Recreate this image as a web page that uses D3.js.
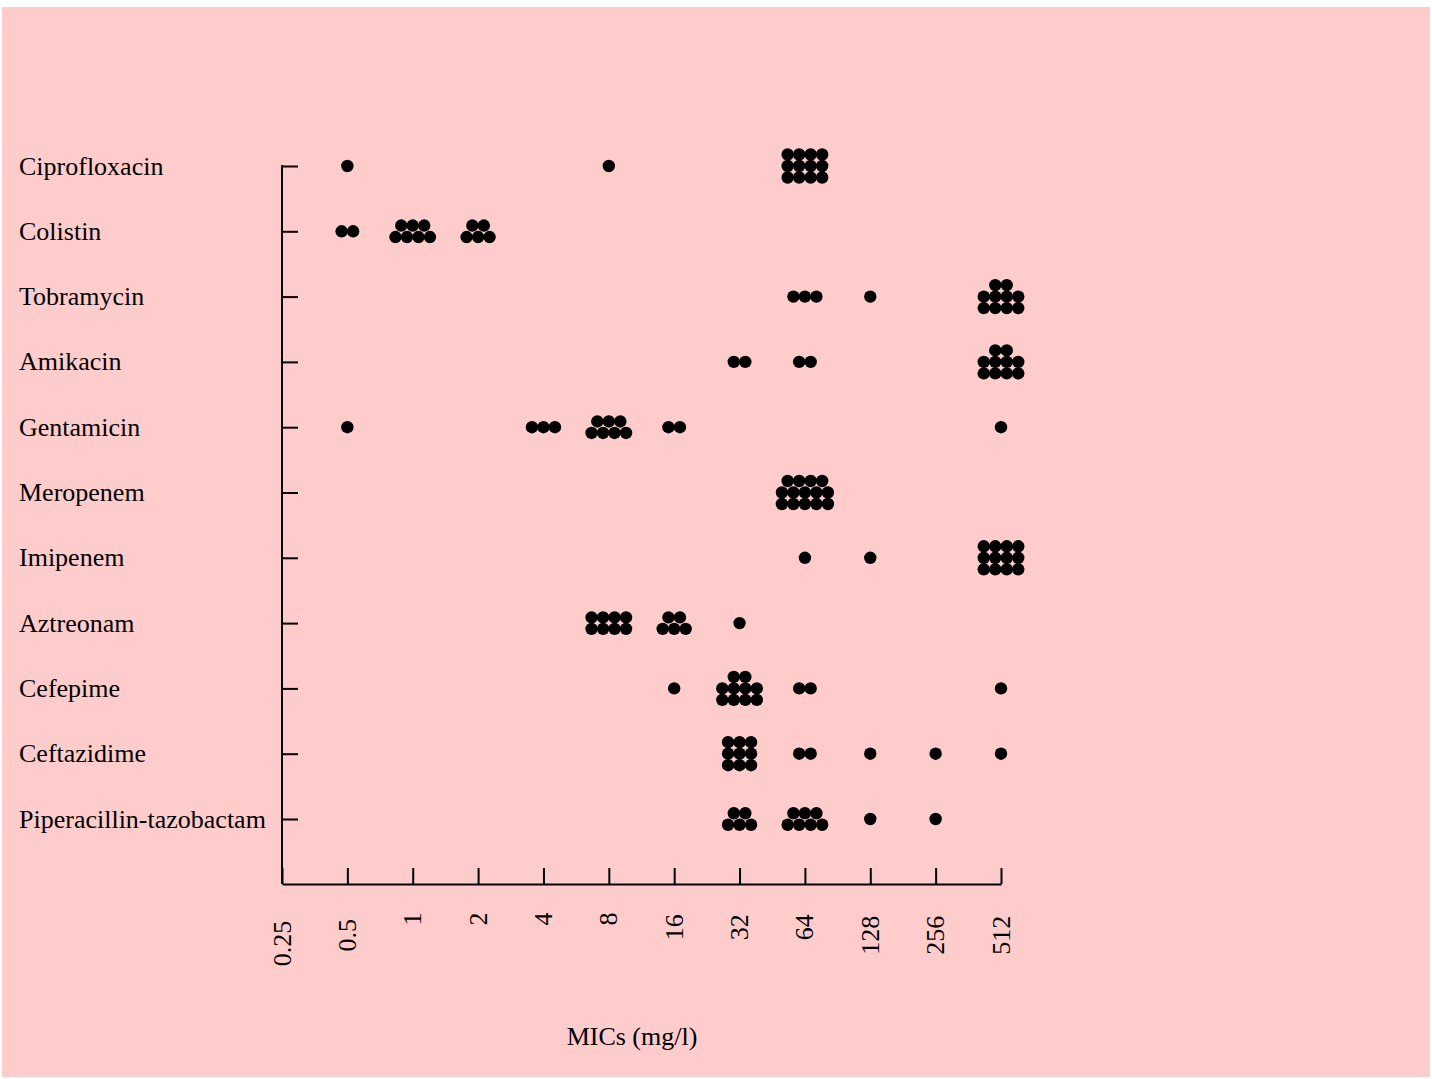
<!DOCTYPE html>
<html>
<head>
<meta charset="utf-8">
<script src="https://cdn.jsdelivr.net/npm/d3@7"></script>
<style>
  html, body { margin: 0; padding: 0; background: #ffffff; }
  svg { display: block; }
  text { font-family: "Liberation Serif", "Times New Roman", serif; fill: #000; }
</style>
</head>
<body>
<svg id="chart" width="1432" height="1079"></svg>
<script>
// MIC dilution steps (mg/l) and their axis labels
const micLevels = [0.25, 0.5, 1, 2, 4, 8, 16, 32, 64, 128, 256, 512];
const micLabels = ["0.25", "0.5", "1", "2", "4", "8", "16", "32", "64", "128", "256", "512"];

// Antibiotics, top to bottom
const drugs = [
  "Ciprofloxacin", "Colistin", "Tobramycin", "Amikacin", "Gentamicin",
  "Meropenem", "Imipenem", "Aztreonam", "Cefepime", "Ceftazidime",
  "Piperacillin-tazobactam"
];

// Number of isolates at each MIC step (same order as micLevels)
const ciprofloxacin = [0, 1, 0, 0, 0, 1, 0, 0, 12, 0, 0, 0];
const colistin      = [0, 2, 7, 5, 0, 0, 0, 0, 0, 0, 0, 0];
const tobramycin    = [0, 0, 0, 0, 0, 0, 0, 0, 3, 1, 0, 10];
const amikacin      = [0, 0, 0, 0, 0, 0, 0, 2, 2, 0, 0, 10];
const gentamicin    = [0, 1, 0, 0, 3, 7, 2, 0, 0, 0, 0, 1];
const meropenem     = [0, 0, 0, 0, 0, 0, 0, 0, 14, 0, 0, 0];
const imipenem      = [0, 0, 0, 0, 0, 0, 0, 0, 1, 1, 0, 12];
const aztreonam     = [0, 0, 0, 0, 0, 8, 5, 1, 0, 0, 0, 0];
const cefepime      = [0, 0, 0, 0, 0, 0, 1, 10, 2, 0, 0, 1];
const ceftazidime   = [0, 0, 0, 0, 0, 0, 0, 9, 2, 1, 1, 1];
const piperacillinTazobactam = [0, 0, 0, 0, 0, 0, 0, 5, 7, 1, 1, 0];

const countsByDrug = [
  ciprofloxacin, colistin, tobramycin, amikacin, gentamicin, meropenem,
  imipenem, aztreonam, cefepime, ceftazidime, piperacillinTazobactam
];

const svg = d3.select("#chart");
const W = 1432, H = 1079;

// page background panel
svg.append("rect")
  .attr("x", 2).attr("y", 7)
  .attr("width", W - 4).attr("height", H - 9)
  .attr("fill", "#ffcccc");

const x = d3.scaleLog().base(2)
  .domain([micLevels[0], micLevels[micLevels.length - 1]])
  .range([282, 1001]);

const y = d3.scalePoint()
  .domain(drugs)
  .range([166, 819]);

const baseY = 884;       // x-axis baseline
const tickLen = 16;
const fontSize = 26;

// ---- x axis (ticks pointing up into the plot)
const xAxis = svg.append("g")
  .attr("transform", `translate(0,${baseY})`)
  .call(d3.axisBottom(x).tickValues(micLevels).tickSize(-tickLen).tickSizeOuter(0).tickFormat(""));
xAxis.select(".domain").attr("stroke", "#000").attr("stroke-width", 2);
xAxis.selectAll(".tick line").attr("stroke", "#000").attr("stroke-width", 2);

// rotated MIC labels
svg.append("g").selectAll("text")
  .data(micLevels)
  .join("text")
  .attr("font-size", fontSize)
  .attr("text-anchor", "middle")
  .attr("dominant-baseline", "central")
  .attr("transform", (d, i) => {
    const cy = 911 + 8.1 * micLabels[i].length;
    return `translate(${x(d)},${cy}) rotate(-90)`;
  })
  .text((d, i) => micLabels[i]);

// axis title
svg.append("text")
  .attr("x", 632).attr("y", 1045)
  .attr("text-anchor", "middle")
  .attr("font-size", fontSize)
  .text("MICs (mg/l)");

// ---- y axis (ticks pointing right, line running from first drug to the baseline)
const yAxis = svg.append("g")
  .attr("transform", `translate(${x.range()[0]},0)`)
  .call(d3.axisLeft(y).tickSize(-tickLen).tickSizeOuter(0).tickFormat(""));
yAxis.select(".domain").remove();
yAxis.selectAll(".tick line").attr("stroke", "#000").attr("stroke-width", 2);
yAxis.append("line")
  .attr("x1", 0).attr("x2", 0)
  .attr("y1", y(drugs[0]) - 1).attr("y2", baseY)
  .attr("stroke", "#000").attr("stroke-width", 2);

// drug names
svg.append("g").selectAll("text")
  .data(drugs)
  .join("text")
  .attr("x", 19)
  .attr("y", d => y(d))
  .attr("dy", "0.33em")
  .attr("font-size", fontSize)
  .text(d => d);

// ---- stacked dots: each isolate is one dot, grouped in centred rows
const spacing = 11.5;
const radius = 6.2;

function clusterOffsets(n) {
  const rows = n <= 3 ? 1 : (n <= 8 ? 2 : 3);
  const cols = Math.ceil(n / rows);
  const out = [];
  for (let i = 0; i < n; i++) {
    const row = Math.floor(i / cols);               // 0 = bottom row
    const inRow = Math.min(cols, n - row * cols);
    const j = i - row * cols;
    out.push({
      dx: (j - (inRow - 1) / 2) * spacing,
      dy: ((rows - 1) / 2 - row) * spacing
    });
  }
  return out;
}

const dots = [];
drugs.forEach((drug, di) => {
  countsByDrug[di].forEach((n, mi) => {
    if (n > 0) {
      clusterOffsets(n).forEach(o => {
        dots.push({ cx: x(micLevels[mi]) + o.dx, cy: y(drug) + o.dy });
      });
    }
  });
});

svg.append("g").selectAll("circle")
  .data(dots)
  .join("circle")
  .attr("cx", d => d.cx)
  .attr("cy", d => d.cy)
  .attr("r", radius)
  .attr("fill", "#000");
</script>
</body>
</html>
